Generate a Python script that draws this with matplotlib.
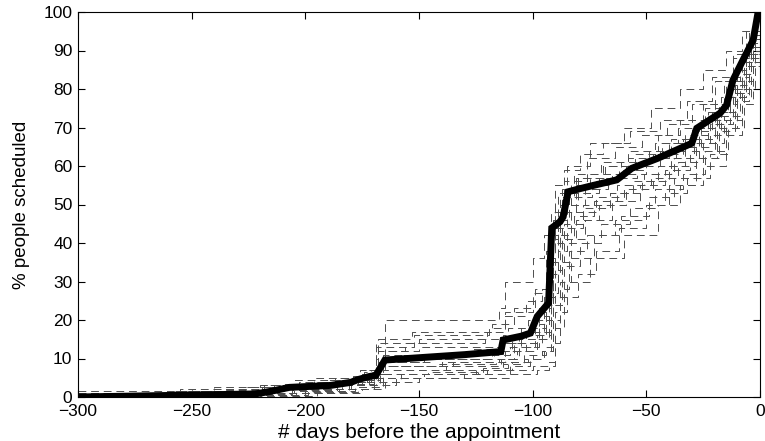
import matplotlib
matplotlib.use('Agg')
import matplotlib.pyplot as plt

plt.rcParams['font.family'] = ['Liberation Sans', 'DejaVu Sans']

# mean curve (thick line)
mean_days = [-300, -250, -222, -215, -207, -189, -180, -177, -172, -169, -165, -150, -130, -114, -113, -105, -101,
             -98, -95, -93, -91.6, -88, -86.6, -84.4, -80, -73, -63, -56.4, -45, -35, -30, -27.8, -17.6, -14.7,
             -11.9, -7.5, -3, -0.9, 0]
mean_pct = [0, 0.5, 0.8, 1.5, 2.5, 3, 3.8, 4.5, 5.3, 5.6, 9.6, 10.2, 11, 11.8, 14.8, 15.8, 16.6,
            20.9, 23, 24.4, 43.9, 45.5, 46.8, 53.3, 54, 55, 56.4, 59.4, 62, 64.6, 65.9, 69.8, 73.7, 75.8,
            82.3, 87.5, 92.7, 99.7, 100]

# individual curves (dashed)
ind_days = [
    [-300, -240, -205, -170, -165, -115, -112, -100, -95, -90, -85, -75, -60, -48, -35, -25, -15, -8, -3, 0],
    [-300, -260, -220, -200, -172, -168, -150, -113, -105, -98, -92, -88, -80, -65, -50, -40, -30, -20, -10, -4, 0],
    [-300, -240, -210, -185, -170, -160, -130, -110, -100, -93, -90, -85, -75, -60, -45, -35, -25, -15, -8, -3, 0],
    [-300, -230, -205, -180, -168, -140, -115, -108, -98, -94, -91, -86, -78, -66, -52, -40, -28, -18, -12, -6, 0],
    [-300, -250, -210, -180, -169, -150, -120, -112, -103, -96, -92, -88, -82, -70, -58, -45, -35, -25, -16, -9, -3, 0],
    [-300, -245, -215, -190, -175, -167, -145, -118, -110, -99, -93, -89, -83, -72, -60, -48, -38, -27, -17, -10, -4, 0],
    [-300, -235, -200, -178, -166, -140, -113, -104, -96, -92, -88, -84, -76, -64, -50, -42, -32, -22, -14, -7, -2, 0],
    [-300, -255, -218, -195, -171, -166, -130, -114, -106, -97, -92, -87, -80, -68, -55, -43, -30, -21, -13, -6, 0],
    [-300, -225, -200, -182, -170, -158, -120, -110, -101, -95, -91, -86, -79, -70, -57, -46, -34, -24, -15, -8, -3, 0],
    [-300, -250, -212, -188, -173, -168, -150, -116, -105, -97, -93, -89, -84, -74, -62, -50, -37, -26, -18, -11, -5, 0],
    [-300, -240, -214, -196, -176, -169, -152, -119, -112, -100, -94, -90, -86, -76, -64, -52, -41, -30, -20, -12, -5, 0],
    [-300, -228, -206, -186, -172, -167, -135, -112, -103, -96, -92, -88, -81, -71, -59, -47, -36, -25, -16, -9, -4, 0],
    [-300, -220, -195, -175, -165, -150, -110, -98, -93, -90, -86, -80, -72, -62, -50, -40, -28, -18, -10, -4, 0],
    [-300, -248, -222, -200, -177, -168, -148, -117, -109, -99, -94, -90, -85, -77, -67, -54, -44, -33, -23, -14, -7, -2, 0],
    [-300, -238, -208, -184, -170, -166, -138, -114, -107, -98, -93, -89, -85, -78, -66, -56, -45, -33, -22, -13, -6, 0],
    [-300, -242, -210, -190, -174, -168, -156, -121, -111, -102, -95, -91, -87, -81, -69, -58, -46, -36, -24, -15, -8, -3, 0],
    [-300, -232, -204, -181, -169, -155, -125, -109, -100, -94, -91, -87, -82, -73, -63, -51, -39, -29, -19, -11, -5, 0],
    [-300, -262, -226, -203, -179, -168, -142, -116, -106, -97, -92, -88, -83, -75, -61, -49, -39, -27, -17, -10, -4, 0],
    [-300, -244, -216, -193, -174, -167, -146, -122, -111, -102, -96, -92, -88, -83, -73, -61, -49, -38, -28, -19, -11, -5, 0],
    [-300, -236, -209, -187, -171, -168, -153, -118, -108, -99, -93, -89, -86, -79, -69, -57, -44, -32, -21, -12, -6, 0],
    [-300, -226, -199, -177, -167, -148, -124, -113, -104, -96, -91, -87, -83, -77, -65, -53, -42, -31, -20, -12, -5, 0],
    [-300, -252, -219, -197, -175, -169, -160, -126, -114, -103, -95, -91, -87, -81, -71, -59, -47, -34, -23, -13, -6, 0],
]
ind_pct = [
    [1.5, 2.5, 4.5, 6, 20, 23, 30, 36, 42, 55, 60, 66, 70, 75, 80, 85, 90, 95, 98, 100],
    [0.5, 1.5, 3, 4, 7, 12, 13, 16, 18, 22, 40, 50, 55, 58, 62, 66, 70, 76, 84, 92, 100],
    [0, 0.5, 1, 2, 3, 5, 6, 7, 8, 9, 22, 30, 36, 42, 50, 55, 60, 68, 76, 86, 100],
    [0, 1, 2, 3, 8, 9, 10, 14, 16, 20, 35, 45, 50, 53, 56, 60, 66, 72, 78, 88, 100],
    [0.5, 1.5, 3, 5, 14, 15, 17, 21, 25, 28, 45, 52, 58, 61, 64, 68, 72, 76, 82, 88, 94, 100],
    [0, 0.8, 2, 3, 4, 9, 10, 11, 13, 15, 30, 42, 48, 52, 55, 58, 62, 68, 74, 80, 90, 100],
    [0, 0.5, 1.5, 2.5, 6, 7, 9, 11, 12, 14, 28, 38, 42, 46, 50, 53, 57, 63, 70, 80, 92, 100],
    [1, 2, 3, 4, 6, 11, 12, 14, 17, 23, 48, 54, 57, 60, 63, 66, 69, 74, 80, 89, 100],
    [0, 0.5, 1, 2, 4, 6, 7, 8, 10, 12, 26, 34, 40, 45, 49, 54, 58, 64, 72, 82, 93, 100],
    [0.3, 1, 2.5, 4, 6, 10, 11, 13, 16, 19, 36, 46, 52, 56, 59, 62, 65, 70, 76, 83, 91, 100],
    [1, 2, 3, 5, 7, 13, 16, 18, 22, 27, 38, 50, 56, 62, 65, 68, 71, 76, 82, 88, 95, 100],
    [0, 0.8, 1.8, 3, 5, 8, 9, 12, 14, 17, 32, 40, 46, 50, 54, 57, 61, 66, 73, 81, 90, 100],
    [0, 0.3, 1, 2, 4, 5, 6, 7, 8, 18, 26, 32, 38, 44, 50, 55, 62, 70, 78, 88, 100],
    [0.5, 1.2, 2.2, 3.5, 5, 9, 10, 12, 15, 18, 24, 44, 50, 54, 57, 60, 64, 68, 74, 79, 86, 95, 100],
    [0.2, 1, 2, 3.5, 5, 7, 8, 10, 12, 15, 27, 38, 44, 49, 53, 56, 60, 65, 71, 78, 87, 100],
    [0.7, 1.6, 3, 4.5, 6.5, 12, 14, 15, 18, 20, 26, 46, 53, 57, 60, 62, 66, 70, 75, 81, 87, 94, 100],
    [0, 0.6, 1.5, 3, 5, 6, 7, 9, 11, 13, 33, 41, 47, 51, 55, 58, 62, 67, 74, 82, 91, 100],
    [0.4, 1, 2.5, 4, 5.5, 8, 8.5, 10, 13, 16, 42, 50, 55, 58, 61, 64, 67, 72, 78, 85, 93, 100],
    [0, 0.7, 2, 3, 4.5, 6, 6.5, 7.5, 9, 10, 12, 20, 30, 36, 42, 47, 52, 57, 62, 69, 77, 87, 100],
    [0.8, 1.8, 3.5, 5, 7, 15, 17, 19, 23, 28, 41, 53, 59, 63, 66, 69, 72, 77, 83, 89, 95, 100],
    [0, 0.4, 1.2, 2.5, 5, 6, 7, 8.5, 10, 12, 24, 35, 41, 46, 51, 55, 59, 64, 71, 79, 89, 100],
    [0.3, 1.3, 2.7, 4, 6, 10, 11, 12.5, 14, 17, 21, 40, 48, 53, 57, 60, 63, 67, 73, 80, 88, 100],
]

fig = plt.figure(figsize=(7.65, 4.41), dpi=100)
ax = fig.add_axes([78/765, 44/441, 682/765, 385/441])

for d, p in zip(ind_days, ind_pct):
    ax.plot(d, p, drawstyle='steps-post', color='0.3', lw=0.7, linestyle=(0, (8, 5)))

ax.plot(mean_days, mean_pct, color='black', lw=5, solid_joinstyle='miter')

ax.set_xlim(-300, 0)
ax.set_ylim(0, 100)
ax.set_xticks(range(-300, 1, 50))
ax.set_yticks(range(0, 101, 10))
ax.tick_params(direction='in', top=True, right=True, labelsize=12.5, length=5, width=0.8)
ax.tick_params(axis='x', pad=5)
ax.tick_params(axis='y', pad=4)
for s in ax.spines.values():
    s.set_linewidth(0.8)
ax.set_xlabel('# days before the appointment', fontsize=15, labelpad=3)
ax.set_ylabel('% people scheduled', fontsize=13.5, labelpad=10)

fig.savefig('out.png', dpi=100)
